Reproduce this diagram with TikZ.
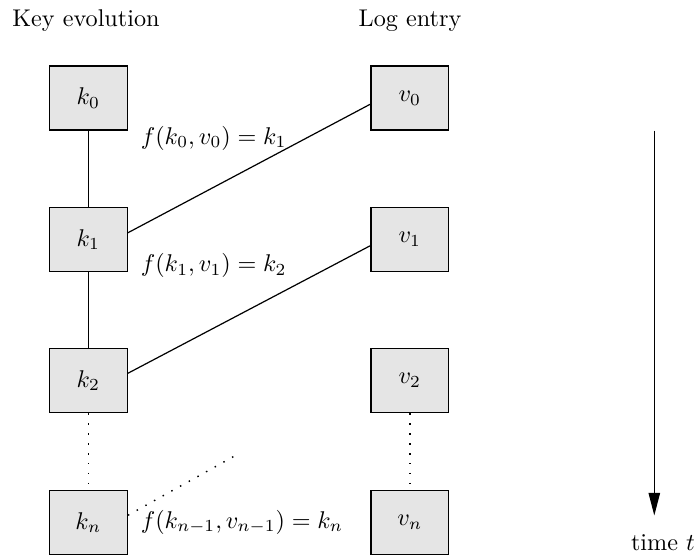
\documentclass[tikz,border=0pt]{standalone}
\usetikzlibrary{arrows.meta}
\begin{document}
\begin{tikzpicture}[x=0.4132pt, y=-0.4132pt,
  cell/.style={draw, line width=0.6pt, fill=gray!20, minimum width=32.2pt, minimum height=26.6pt, inner sep=0pt},
  lbl/.style={inner sep=0pt, anchor=base},
  link/.style={line width=0.5pt},
  dotlink/.style={line width=0.6pt, dash pattern=on 0.6pt off 3.5pt}]
\useasboundingbox (0,0) rectangle (696,558);
% headers
\node[lbl] (hk) at (86,26.7) {Key evolution};
\node[lbl] (hv) at (410,26.7) {Log entry};
% key column
\node[cell] (k0) at (88.3,98) {$k_0$};
\node[cell] (k1) at (88.3,239.5) {$k_1$};
\node[cell] (k2) at (88.3,380.5) {$k_2$};
\node[cell] (kn) at (88.3,522.5) {$k_n$};
% log column
\node[cell] (v0) at (409.8,98) {$v_0$};
\node[cell] (v1) at (409.8,239.5) {$v_1$};
\node[cell] (v2) at (409.8,380.5) {$v_2$};
\node[cell] (vn) at (409.8,522.5) {$v_n$};
% vertical links
\draw[link] (k0) -- (k1);
\draw[link] (k1) -- (k2);
\draw[dotlink] (k2) -- (kn);
\draw[dotlink] (v2) -- (vn);
% diagonal links
\draw[link] ([yshift=2.8pt]k1.east) -- ([yshift=-2.6pt]v0.west);
\draw[link] ([yshift=3pt]k2.east) -- ([yshift=-2.6pt]v1.west);
\coordinate (dend) at (240,453);
\draw[dotlink] ([yshift=3pt]kn.east) -- (dend);
% function labels
\node[lbl] (f1) at (213.7,144) {$f(k_0,v_0)=k_1$};
\node[lbl] (f2) at (213.7,271.7) {$f(k_1,v_1)=k_2$};
\node[lbl] (f3) at (242,528.3) {$f(k_{n-1},v_{n-1})=k_n$};
% time arrow
\coordinate (ttop) at (654.3,130.7);
\coordinate (tbot) at (654.3,515.5);
\draw[link, -{Triangle[length=9.3pt,width=4.7pt]}] (ttop) -- (tbot);
\node[lbl] (tt) at (663,550.7) {time $t$};
\end{tikzpicture}
\end{document}
